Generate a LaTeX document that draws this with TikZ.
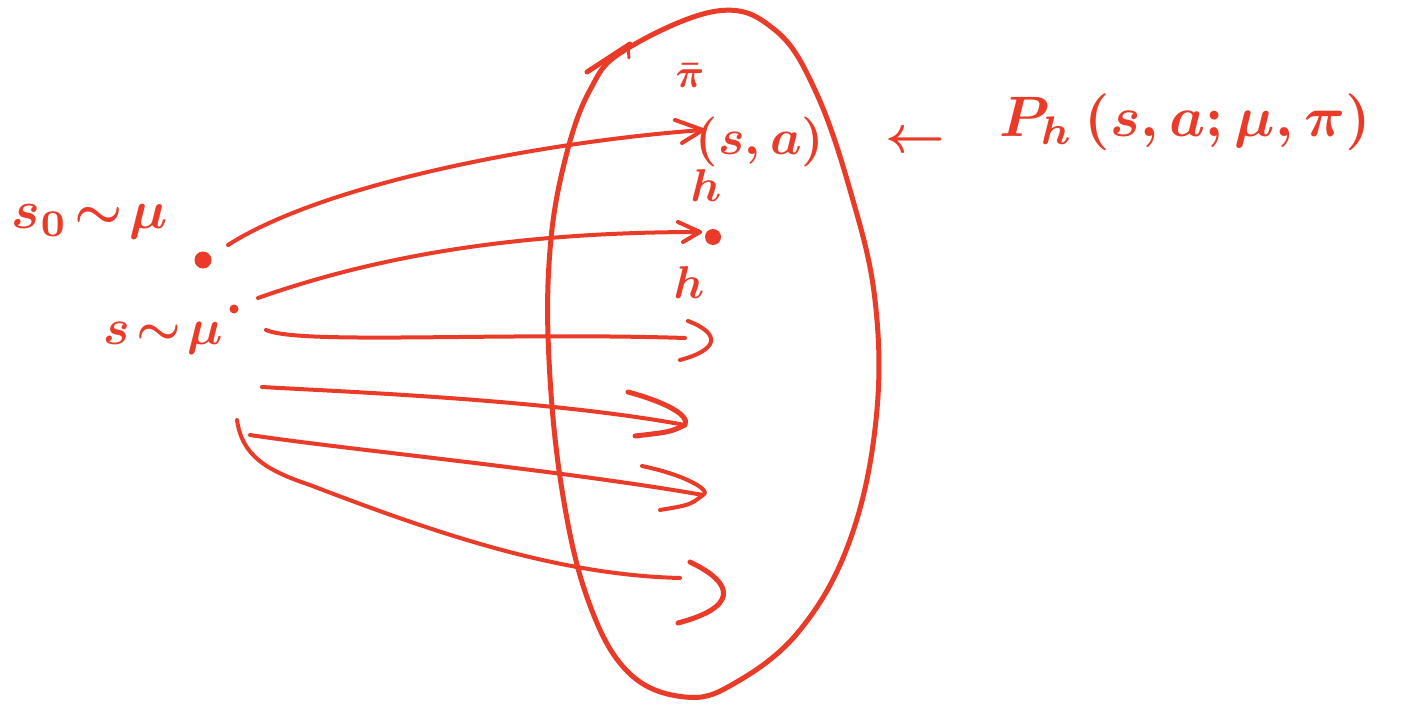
\documentclass[tikz,border=0pt]{standalone}
\usepackage{amsmath}
\usetikzlibrary{arrows.meta}
\definecolor{ink}{HTML}{EA3A28}
\begin{document}
\begin{tikzpicture}[x=1pt,y=-1pt,
  stroke/.style={draw=ink,line width=4pt,line cap=round,line join=round},
  thick stroke/.style={draw=ink,line width=5pt,line cap=round,line join=round},
  lbl/.style={text=ink,inner sep=0pt,scale=#1/10,font=\boldmath},
  lbl/.default=50,
  bigdot/.style={circle,fill=ink,inner sep=0pt,minimum size=#1}]
\useasboundingbox (0,0) rectangle (1409,709);

% the set (blob)
\draw[thick stroke] plot[smooth cycle, tension=0.65] coordinates {
  (625,50) (717,11) (775,30) (815,90) (850,190) (875,300) (876,420)
  (850,540) (800,630) (735,683) (685,697) (628,672) (588,600)
  (562,490) (549,360) (550,250) (565,160) (590,90)};
\draw[thick stroke] (587,72) -- (630,44);
\draw[stroke,line width=3pt] (628,46) -- (629,58);

% start points
\node[bigdot=17pt] (d0) at (203,260) {};
\node[bigdot=9pt]  (d1) at (234,309) {};
\node[bigdot=16pt] (d2) at (713,237) {};

% curve endpoints
\coordinate (a1) at (228,245);  \coordinate (b1) at (703,130);
\coordinate (a2) at (258,298);  \coordinate (b2) at (700,232);
\coordinate (a3) at (266,330);  \coordinate (b3) at (685,338);
\coordinate (a4) at (262,387);  \coordinate (b4) at (685,425);
\coordinate (a5) at (250,435);  \coordinate (b5) at (703,495);
\coordinate (a6) at (237,420);  \coordinate (b6) at (680,578);

% trajectories
\draw[stroke] (a1) .. controls (330,180) and (560,140) .. (b1);
\draw[stroke] (675,120) -- (b1) -- (682,143);

\draw[stroke] (a2) .. controls (380,255) and (520,232) .. (b2);
\draw[stroke] (678,222) -- (b2) -- (683,242);

\draw[stroke] (a3) .. controls (300,345) and (500,332) .. (b3);
\draw[stroke] (688,321) .. controls (722,334) and (718,350) .. (680,360);

\draw[stroke] (a4) .. controls (350,392) and (550,400) .. (b4);
\draw[stroke,line width=5pt] (628,392) .. controls (665,402) and (690,415) .. (b4) .. controls (670,432) .. (635,436);

\draw[stroke] (a5) .. controls (350,450) and (560,470) .. (b5);
\draw[stroke] (642,466) .. controls (690,476) and (712,492) .. (b5) .. controls (690,505) .. (660,510);

\draw[stroke] (a6) .. controls (242,455) and (265,470) .. (310,485)
  .. controls (440,535) and (560,575) .. (b6);
\draw[stroke,line width=5pt] (690,562) .. controls (738,585) and (735,608) .. (678,623);

% labels
\node[lbl=54] (l0) at (90,222) {$s_0\!\sim\!\mu$};
\node[lbl=50] (l1) at (163,338) {$s\!\sim\!\mu$};
\node[lbl=40] (lpi) at (690,76) {$\bar{\pi}$};
\node[lbl=50] (lsa) at (760,142) {$(s,a)$};
\node[lbl=46] (lh1) at (706,186) {$h$};
\node[lbl=46] (lh2) at (689,283) {$h$};
\node[lbl=57] (lP) at (1185,122) {$P_h\,(s,a;\mu,\pi)$};
\node[lbl=52] (larr) at (915,142) {$\leftarrow$};
\end{tikzpicture}
\end{document}
